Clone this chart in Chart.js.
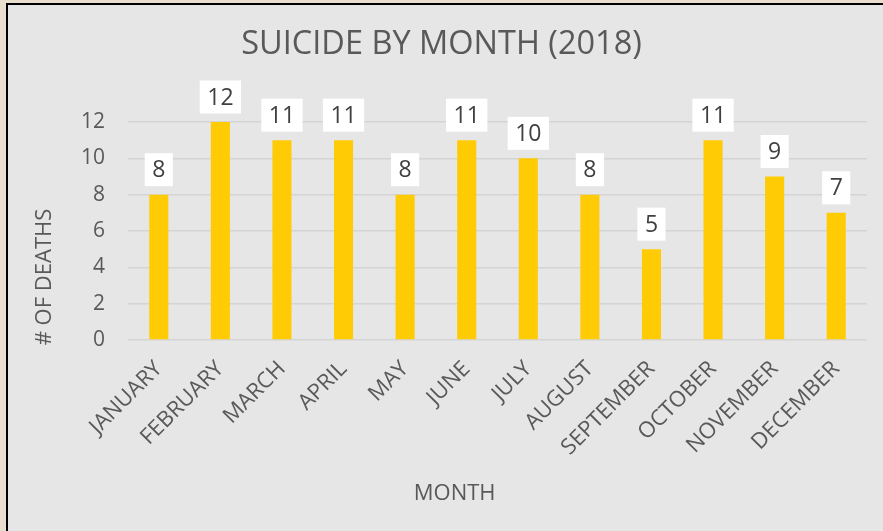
<!DOCTYPE html>
<html><head><meta charset="utf-8">
<script src="https://cdn.jsdelivr.net/npm/chart.js@4"></script>
<style>html,body{margin:0;padding:0;background:#e6dccb;overflow:hidden}</style>
</head><body>
<canvas id="c" width="883" height="531"></canvas>
<script>
const months = ['JANUARY','FEBRUARY','MARCH','APRIL','MAY','JUNE','JULY','AUGUST','SEPTEMBER','OCTOBER','NOVEMBER','DECEMBER'];
const deaths = [8,12,11,11,8,11,10,8,5,11,9,7];
const yTickValues = [0,2,4,6,8,10,12];
const chartTitle = 'SUICIDE BY MONTH (2018)';
const xAxisTitle = 'MONTH';
const yAxisTitle = '# OF DEATHS';

const FONT = "'Open Sans', 'DejaVu Sans', sans-serif";
const TEXT = '#595959';

const panelPlugin = {
  id: 'panel',
  beforeDraw(chart) {
    const ctx = chart.ctx;
    ctx.save();
    ctx.fillStyle = '#e8dfcf';
    ctx.fillRect(0, 0, chart.width, chart.height);
    ctx.fillStyle = '#e6e6e6';
    ctx.fillRect(8, 5, chart.width - 8, chart.height - 5);
    ctx.strokeStyle = '#000000';
    ctx.lineWidth = 2;
    ctx.beginPath();
    ctx.moveTo(7, chart.height);
    ctx.lineTo(7, 4);
    ctx.lineTo(chart.width, 4);
    ctx.stroke();
    ctx.restore();
  }
};

const labelPlugin = {
  id: 'barLabels',
  afterDatasetsDraw(chart) {
    const ctx = chart.ctx;
    const meta = chart.getDatasetMeta(0);
    ctx.save();
    ctx.font = '23px ' + FONT;
    ctx.textAlign = 'center';
    ctx.textBaseline = 'middle';
    meta.data.forEach((el, i) => {
      const txt = String(chart.data.datasets[0].data[i]);
      const tw = ctx.measureText(txt).width;
      const w = tw + 15, h = 33;
      const bottom = el.y - 8.5;
      ctx.fillStyle = '#ffffff';
      ctx.fillRect(el.x - w / 2, bottom - h, w, h);
      ctx.fillStyle = '#404040';
      ctx.fillText(txt, el.x, bottom - h / 2 + 1);
    });
    ctx.restore();
  }
};

// Axis titles: placed where the reference places them (not centred on the plot area)
const axisTitlePlugin = {
  id: 'axisTitles',
  afterDraw(chart) {
    const ctx = chart.ctx;
    const area = chart.chartArea;
    ctx.save();
    ctx.fillStyle = TEXT;
    ctx.font = '22px ' + FONT;
    ctx.textAlign = 'center';
    ctx.textBaseline = 'middle';
    ctx.fillText(xAxisTitle, area.left + (area.right - area.left) * 0.442, 494);
    ctx.translate(45, area.bottom - 63);
    ctx.rotate(-Math.PI / 2);
    ctx.fillText(yAxisTitle, 0, 0);
    ctx.restore();
  }
};

new Chart(document.getElementById('c'), {
  type: 'bar',
  data: {
    labels: months,
    datasets: [{
      data: deaths,
      backgroundColor: '#ffcb05',
      categoryPercentage: 1,
      barPercentage: 0.31
    }]
  },
  options: {
    responsive: false,
    animation: false,
    devicePixelRatio: 1,
    layout: { padding: { top: 0, right: 16, bottom: 0, left: 16 } },
    plugins: {
      legend: { display: false },
      tooltip: { enabled: false },
      title: {
        display: true,
        text: chartTitle,
        color: TEXT,
        font: { family: FONT, size: 32.5, weight: 'normal', lineHeight: 1.2 },
        padding: { top: 25, bottom: 58 }
      }
    },
    scales: {
      x: {
        grid: { display: false, drawTicks: false },
        border: { display: false },
        ticks: {
          color: TEXT,
          font: { family: FONT, size: 22 },
          minRotation: 45, maxRotation: 45,
          padding: 16,
          autoSkip: false
        },
        afterFit(scale) { scale.height = 191; }
      },
      y: {
        min: 0, max: 12,
        afterBuildTicks(scale) { scale.ticks = yTickValues.map(v => ({ value: v })); },
        grid: { color: '#d4d4d4', lineWidth: 1.5, drawTicks: false },
        border: { display: false },
        ticks: {
          color: TEXT,
          font: { family: FONT, size: 21 },
          padding: 23
        },
        afterFit(scale) { scale.width = 112; }
      }
    }
  },
  plugins: [panelPlugin, labelPlugin, axisTitlePlugin]
});
</script>
</body></html>
